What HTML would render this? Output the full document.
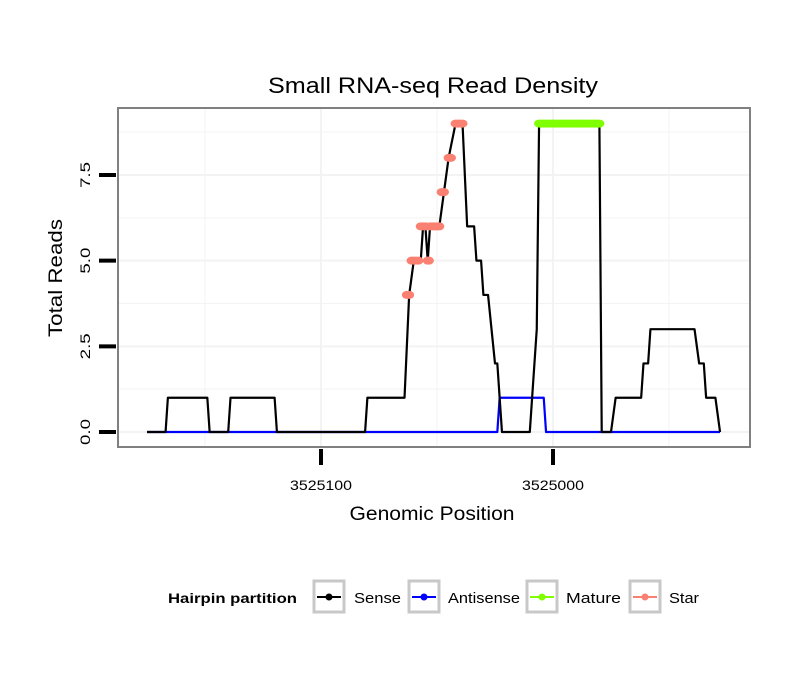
<!DOCTYPE html>
<html><head><meta charset="utf-8"><style>
body{margin:0;background:#fff;}
svg{display:block;font-family:"Liberation Sans",sans-serif;}
</style></head><body>
<svg id="chart" width="810" height="690" xmlns="http://www.w3.org/2000/svg">
<rect width="810" height="690" fill="#fff"/>
<text x="433" y="93" font-size="22" text-anchor="middle" textLength="330" lengthAdjust="spacingAndGlyphs">Small RNA-seq Read Density</text>
<g id="grid"></g>
<g id="series"></g>
<rect x="118" y="108" width="632" height="339" fill="none" stroke="#808080" stroke-width="2"/>
<g id="axes"></g>
<text x="432" y="520" font-size="19" text-anchor="middle" textLength="165" lengthAdjust="spacingAndGlyphs">Genomic Position</text>
<text transform="translate(62,278) rotate(-90)" font-size="19" text-anchor="middle" textLength="118" lengthAdjust="spacingAndGlyphs">Total Reads</text>
<g>
<text x="168" y="603" font-size="14" font-weight="bold" textLength="129" lengthAdjust="spacingAndGlyphs">Hairpin partition</text>
<g>
<rect x="314" y="581" width="30" height="31" fill="#fff" stroke="#c8c8c8" stroke-width="3"/><line x1="317" y1="597" x2="341" y2="597" stroke="#000" stroke-width="2"/><circle cx="329" cy="597" r="3.5" fill="#000"/>
<text x="354" y="603" font-size="15" textLength="47" lengthAdjust="spacingAndGlyphs">Sense</text></g>
<g>
<rect x="409" y="581" width="30" height="31" fill="#fff" stroke="#c8c8c8" stroke-width="3"/><line x1="412" y1="597" x2="436" y2="597" stroke="#0000ff" stroke-width="2"/><circle cx="424" cy="597" r="3.5" fill="#0000ff"/>
<text x="448" y="603" font-size="15" textLength="72" lengthAdjust="spacingAndGlyphs">Antisense</text></g>
<g>
<rect x="527" y="581" width="30" height="31" fill="#fff" stroke="#c8c8c8" stroke-width="3"/><line x1="530" y1="597" x2="554" y2="597" stroke="#7fff00" stroke-width="2"/><circle cx="542" cy="597" r="3.5" fill="#7fff00"/>
<text x="566" y="603" font-size="15" textLength="55" lengthAdjust="spacingAndGlyphs">Mature</text></g>
<g>
<rect x="630" y="581" width="30" height="31" fill="#fff" stroke="#c8c8c8" stroke-width="3"/><line x1="633" y1="597" x2="657" y2="597" stroke="#fa8072" stroke-width="2"/><circle cx="645" cy="597" r="3.5" fill="#fa8072"/>
<text x="669" y="603" font-size="15" textLength="30" lengthAdjust="spacingAndGlyphs">Star</text></g>
</g>
</svg>
<script>
const senseX=[3525175,3525167,3525166,3525149,3525148,3525140,3525139,3525120,3525119,3525081,3525080,3525064,3525062,3525060,3525057,3525056,3525055,3525054,3525053,3525049,3525047,3525045,3525042,3525039,3525037,3525034,3525033,3525031,3525030,3525028,3525025,3525024,3525023,3525022,3525010,3525008,3525007,3525006,3524980,3524979,3524975,3524973,3524962,3524961,3524959,3524958,3524939,3524937,3524935,3524934,3524930,3524928];
const senseY=[0,0,1,1,0,0,1,1,0,0,1,1,4,5,5,6,6,5,6,6,7,8,9,9,6,6,5,5,4,4,2,2,1,0,0,2,3,9,9,0,0,1,1,2,2,3,3,2,2,1,1,0];
const antiX=[3525175,3525024,3525023,3525004,3525003,3524928];
const antiY=[0,0,1,1,0,0];
const starX=[3525063,3525062,3525061,3525060,3525059,3525058,3525054,3525053.5,3525057,3525056,3525055,3525053,3525052,3525051,3525050,3525049,3525048,3525047,3525045,3525044,3525042,3525041,3525040,3525039];
const starY=[4,4,5,5,5,5,5,5,6,6,6,6,6,6,6,6,7,7,8,8,9,9,9,9];
const matureX=[];for(let p=3525006;p>=3524980;p--)matureX.push(p);
const matureY=matureX.map(()=>9);
const yTicks=[0,2.5,5,7.5];
const yTickLabels=["0.0","2.5","5.0","7.5"];
const xTicks=[3525100,3525000];
const xTickLabels=["3525100","3525000"];

const NS="http://www.w3.org/2000/svg";
const xs=p=>321+(3525100-p)*2.32;
const ys=v=>432-v*34.27;
function mk(tag,attrs,parent){const e=document.createElementNS(NS,tag);for(const k in attrs)e.setAttribute(k,attrs[k]);parent.appendChild(e);return e;}
const grid=document.getElementById('grid'),series=document.getElementById('series'),axes=document.getElementById('axes');
[1.25,3.75,6.25,8.75].concat(yTicks).forEach(v=>{const l=mk('line',{x1:119,x2:749,y1:ys(v),y2:ys(v),stroke:'#f3f3f3','stroke-width':v%2.5===0?2:1},grid);

});
[3525150,3525050,3524950].concat(xTicks).forEach(p=>{const l=mk('line',{x1:xs(p),x2:xs(p),y1:109,y2:446,stroke:'#f3f3f3','stroke-width':xTicks.includes(p)?2:1},grid);

});
function line(X,Y,color,name){const l=mk('polyline',{points:X.map((x,i)=>xs(x)+','+ys(Y[i])).join(' '),fill:'none',stroke:color,'stroke-width':2.2,'stroke-linejoin':'round'},series);

}
line(antiX,antiY,'#0000ff','antisense-line');
line(senseX,senseY,'#000','sense-line');
function pts(X,Y,color,name){X.forEach((x,i)=>{const c=mk('ellipse',{cx:xs(x),cy:ys(Y[i]),rx:5,ry:4,fill:color},series);

});}
pts(starX,starY,'#fa8072','star-point');
pts(matureX,matureY,'#7fff00','mature-point');
yTicks.forEach((v,i)=>{const t=mk('line',{x1:99,x2:116,y1:ys(v),y2:ys(v),stroke:'#000','stroke-width':4},axes);


const tx=mk('text',{transform:`translate(90,${ys(v)}) rotate(-90)`,'font-size':14,'text-anchor':'middle',textLength:26,lengthAdjust:'spacingAndGlyphs'},axes);tx.textContent=yTickLabels[i];

});
xTicks.forEach((p,i)=>{const t=mk('line',{x1:xs(p),x2:xs(p),y1:449,y2:465,stroke:'#000','stroke-width':4},axes);


const tx=mk('text',{x:xs(p),y:490,'font-size':14,'text-anchor':'middle',textLength:62,lengthAdjust:'spacingAndGlyphs'},axes);tx.textContent=xTickLabels[i];

});
</script>
</body></html>
